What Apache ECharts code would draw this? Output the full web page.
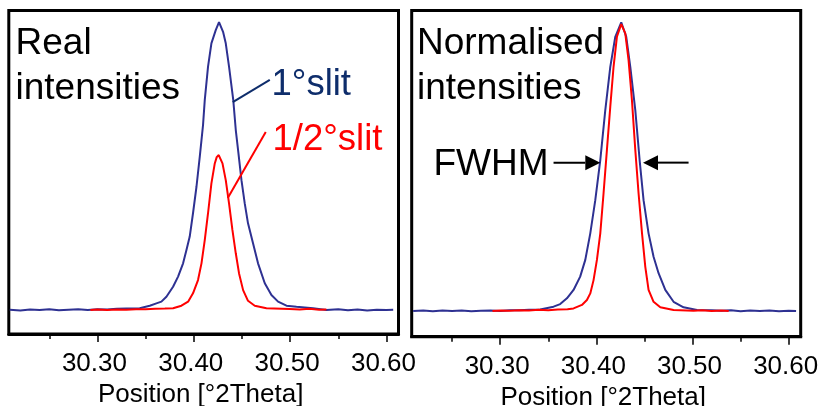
<!DOCTYPE html>
<html>
<head>
<meta charset="utf-8">
<script src="https://cdn.jsdelivr.net/npm/echarts@6/dist/echarts.min.js"></script>
<style>
  html, body { margin: 0; padding: 0; background: #fff; }
  #chart { width: 821px; height: 406px; }
</style>
</head>
<body>
<div id="chart"></div>
<script>
// ---- Scan data: position in °2Theta, intensity relative to the 1° slit peak (=100) ----

// Real intensities, 1° slit
const realSlit1Pos = [30.209, 30.22, 30.23, 30.24, 30.25, 30.26, 30.27, 30.28, 30.29, 30.30, 30.31, 30.32, 30.33,
  30.3439, 30.3543, 30.3612, 30.3664, 30.3716, 30.3785, 30.3837, 30.3889, 30.3924, 30.3958, 30.3992, 30.4028,
  30.4062, 30.4080, 30.4096, 30.4114, 30.4148, 30.4183, 30.4228, 30.4262, 30.4304, 30.4332, 30.4366, 30.4410,
  30.4436, 30.4462, 30.4495, 30.4529, 30.4563, 30.4615, 30.4667, 30.4737, 30.4806, 30.4875, 30.4962, 30.5066,
  30.5238, 30.5377, 30.55, 30.56, 30.57, 30.58, 30.59, 30.60, 30.607];
const realSlit1Int = [0.1, -0.2, 0.2, 0.0, 0.3, -0.1, 0.1, 0.3, 0.0, 0.3, 0.2, 0.4, 0.5,
  0.6, 1.5, 2.3, 2.9, 4.6, 8.1, 11.6, 16.2, 20.8, 25.5, 33.6, 42.8,
  53.2, 59.0, 64.2, 72.9, 84.5, 92.6, 97.2, 100, 96.6, 92.6, 84.5, 72.9,
  62.5, 54.9, 45.1, 37.0, 30.1, 23.2, 16.2, 9.3, 5.2, 2.9, 1.5, 1.15,
  0.6, 0.0, 0.3, -0.1, 0.2, -0.2, 0.1, 0.0, 0.1];

// Real intensities, 1/2° slit
const realSlitHalfPos = [30.2927, 30.30, 30.31, 30.32, 30.33, 30.34, 30.35, 30.36, 30.37, 30.3785, 30.3872,
  30.3941, 30.3992, 30.4044, 30.4080, 30.4114, 30.4148, 30.4183, 30.4218, 30.4238, 30.4259, 30.4298, 30.4332,
  30.4366, 30.4401, 30.4436, 30.4470, 30.4512, 30.4563, 30.4633, 30.4754, 30.4996, 30.51, 30.52, 30.53, 30.5377];
const realSlitHalfInt = [0.0, 0.2, 0.0, 0.2, 0.1, 0.3, 0.3, 0.4, 0.5, 0.6, 1.5,
  2.9, 5.8, 10.4, 16.2, 24.3, 33.6, 44.0, 50.9, 53.1, 53.8, 50.9, 45.1,
  37.0, 27.8, 19.7, 12.7, 6.9, 3.2, 1.5, 0.6, 0.35, 0.2, 0.4, 0.1, 0.2];

// Normalised intensities, 1° slit
const normSlit1Pos = [30.2095, 30.22, 30.23, 30.24, 30.25, 30.26, 30.27, 30.28, 30.29, 30.30, 30.31, 30.32, 30.33,
  30.3416, 30.3555, 30.3624, 30.3694, 30.3763, 30.3832, 30.3885, 30.3937, 30.3989, 30.4041, 30.4093, 30.4145,
  30.4197, 30.4259, 30.4311, 30.4353, 30.4405, 30.4450, 30.4491, 30.4543, 30.4595, 30.4647, 30.4717, 30.4803,
  30.4907, 30.5047, 30.52, 30.53, 30.54, 30.55, 30.56, 30.57, 30.58, 30.59, 30.60, 30.6077];
const normSlit1Int = [0.0, 0.2, -0.1, 0.2, 0.0, 0.2, -0.1, 0.1, 0.2, 0.0, 0.3, 0.3, 0.4,
  0.5, 1.5, 2.4, 4.4, 7.3, 11.9, 17.7, 26.9, 38.4, 52.3, 69.6, 84.6,
  95.0, 100, 95.0, 84.6, 69.6, 52.3, 38.4, 26.9, 18.8, 13.1, 7.3, 3.2,
  1.3, 0.35, 0.3, 0.1, 0.3, -0.1, 0.2, 0.0, 0.2, -0.1, 0.1, 0.0];

// Normalised intensities, 1/2° slit
const normSlitHalfPos = [30.2920, 30.30, 30.31, 30.32, 30.33, 30.34, 30.35, 30.36, 30.37, 30.3763, 30.3850,
  30.3902, 30.3937, 30.3971, 30.4006, 30.4041, 30.4075, 30.4110, 30.4145, 30.4179, 30.4214, 30.4259, 30.4301,
  30.4335, 30.4370, 30.4405, 30.4439, 30.4475, 30.4509, 30.4543, 30.4595, 30.4665, 30.4803, 30.5011, 30.51,
  30.52, 30.53, 30.5376];
const normSlitHalfInt = [0.0, 0.2, 0.1, 0.3, 0.2, 0.4, 0.3, 0.5, 0.6, 0.9, 2.1,
  3.8, 6.1, 10.7, 17.7, 26.9, 40.8, 55.8, 70.8, 84.6, 95.0, 99.4, 96.2,
  86.9, 73.1, 55.8, 40.8, 26.9, 15.3, 7.3, 3.2, 1.3, 0.35, 0.1, 0.3,
  0.0, 0.2, 0.0];

// Axis ticks (°2Theta)
const majorTicks = [30.30, 30.40, 30.50, 30.60];
const minorTicks = [30.25, 30.35, 30.45, 30.55];
const axisTitle = 'Position [°2Theta]';

// Annotation anchors in data coordinates
const slit1Leader = [[30.4405, 72.2], [30.4789, 79.9]];
const slitHalfLeader = [[30.4353, 38.9], [30.4747, 61.8]];
const fwhmLevel = 51.4;
const fwhmLeftArrow = [30.3555, 30.4041];   // tail, tip
const fwhmRightArrow = [30.4959, 30.4485];  // tail, tip

// ---- Styling ----
const FONT = '"Liberation Sans", Arial, Helvetica, sans-serif';
const BLUE = '#2E3192';
const BLUE_TEXT = '#0E2D6B';
const RED = '#FF0000';
const X_MIN = 30.208, X_MAX = 30.6125;

const zip = (xs, ys) => xs.map((x, i) => [x, ys[i]]);

function xAxesFor(gridIndex, nameGap) {
  return [
    {
      type: 'value', gridIndex, position: 'bottom', min: X_MIN, max: X_MAX,
      axisLine: { show: true, onZero: false, lineStyle: { color: '#000', width: 3 } },
      splitLine: { show: false },
      axisTick: { show: true, length: 8, lineStyle: { color: '#000', width: 1.5 }, customValues: majorTicks },
      axisLabel: {
        customValues: majorTicks, formatter: v => v.toFixed(2),
        margin: 17, fontSize: 26, color: '#000', fontFamily: FONT, padding: [0, 6, 0, 0]
      },
      name: axisTitle, nameLocation: 'middle', nameGap,
      nameTextStyle: { fontSize: 26, color: '#000', fontFamily: FONT, padding: [0, 6, 0, 0] }
    },
    {
      type: 'value', gridIndex, position: 'bottom', min: X_MIN, max: X_MAX,
      axisLine: { show: false, onZero: false },
      splitLine: { show: false },
      axisTick: { show: true, length: 5, lineStyle: { color: '#000', width: 1.5 }, customValues: minorTicks },
      axisLabel: { show: false }
    }
  ];
}

function lineSeries(name, xIdx, yIdx, pos, vals, color, z) {
  return {
    name, type: 'line', xAxisIndex: xIdx, yAxisIndex: yIdx,
    data: zip(pos, vals), showSymbol: false, symbol: 'none', z,
    lineStyle: { color, width: 2 }, itemStyle: { color }, silent: true
  };
}

const chart = echarts.init(document.getElementById('chart'));

const gridBase = { show: true, borderColor: '#000', borderWidth: 3, outerBoundsMode: 'none' };

chart.setOption({
  animation: false,
  backgroundColor: '#fff',
  grid: [
    Object.assign({ left: 8.8, top: 10.5, width: 389.7, height: 323.5 }, gridBase),
    Object.assign({ left: 411.7, top: 10.5, width: 389, height: 326.2 }, gridBase)
  ],
  xAxis: [...xAxesFor(0, 47), ...xAxesFor(1, 45)],
  yAxis: [
    { type: 'value', gridIndex: 0, min: -8.33, max: 104.0, show: false },
    { type: 'value', gridIndex: 1, min: -8.9, max: 104.1, show: false }
  ],
  series: [
    lineSeries('1°slit', 0, 0, realSlit1Pos, realSlit1Int, BLUE, 2),
    lineSeries('1/2°slit', 0, 0, realSlitHalfPos, realSlitHalfInt, RED, 3),
    lineSeries('1°slit normalised', 2, 1, normSlit1Pos, normSlit1Int, BLUE, 2),
    lineSeries('1/2°slit normalised', 2, 1, normSlitHalfPos, normSlitHalfInt, RED, 3)
  ]
});

// Annotations: leader lines and FWHM arrows are anchored to data coordinates
const toPx0 = p => chart.convertToPixel({ seriesIndex: 0 }, p);
const toPx1 = p => chart.convertToPixel({ seriesIndex: 2 }, p);

function leader(pts, color) {
  const a = toPx0(pts[0]), b = toPx0(pts[1]);
  return { type: 'line', shape: { x1: a[0], y1: a[1], x2: b[0], y2: b[1] }, style: { stroke: color, lineWidth: 2 }, z: 10 };
}

function arrow(tailX, tipX) {
  const tail = toPx1([tailX, fwhmLevel]), tip = toPx1([tipX, fwhmLevel]);
  const dir = Math.sign(tip[0] - tail[0]);
  const headLen = 15, headHalf = 7.5;
  const baseX = tip[0] - dir * headLen;
  return [
    { type: 'line', shape: { x1: tail[0], y1: tail[1], x2: baseX, y2: tip[1] }, style: { stroke: '#000', lineWidth: 2 }, z: 10 },
    { type: 'polygon', shape: { points: [[tip[0], tip[1]], [baseX, tip[1] - headHalf], [baseX, tip[1] + headHalf]] }, style: { fill: '#000' }, z: 10 }
  ];
}

function label(text, x, baseline, size, color) {
  return {
    type: 'text', x, y: baseline - 0.34 * size, z: 10,
    style: { text, font: `${size}px ${FONT}`, fill: color, verticalAlign: 'middle', align: 'left' }
  };
}

chart.setOption({
  graphic: [
    label('Real', 15.5, 56, 37, '#000'),
    label('intensities', 15.5, 101, 37, '#000'),
    label('1°slit', 271.5, 97, 36.5, BLUE_TEXT),
    label('1/2°slit', 272.5, 152, 36.5, RED),
    leader(slit1Leader, BLUE_TEXT),
    leader(slitHalfLeader, RED),
    label('Normalised', 417, 56, 37, '#000'),
    label('intensities', 417, 101, 37, '#000'),
    label('FWHM', 433.5, 177.5, 37, '#000'),
    ...arrow(fwhmLeftArrow[0], fwhmLeftArrow[1]),
    ...arrow(fwhmRightArrow[0], fwhmRightArrow[1])
  ]
});
</script>
</body>
</html>
